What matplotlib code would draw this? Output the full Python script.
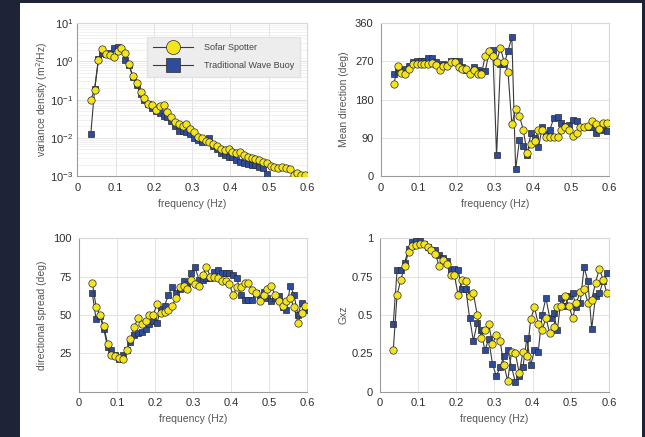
import matplotlib
matplotlib.use("Agg")
import matplotlib.pyplot as plt
from matplotlib.patches import Rectangle
from matplotlib.ticker import LogLocator, NullFormatter

plt.rcParams['font.family'] = ['Liberation Sans', 'DejaVu Sans']

# frequency grid (Hz)
freq = [0.035, 0.045, 0.055, 0.065, 0.075, 0.085, 0.095, 0.105, 0.115, 0.125,
        0.135, 0.145, 0.155, 0.165, 0.175, 0.185, 0.195, 0.205, 0.215, 0.225,
        0.235, 0.245, 0.255, 0.265, 0.275, 0.285, 0.295, 0.305, 0.315, 0.325,
        0.335, 0.345, 0.355, 0.365, 0.375, 0.385, 0.395, 0.405, 0.415, 0.425,
        0.435, 0.445, 0.455, 0.465, 0.475, 0.485, 0.495, 0.505, 0.515, 0.525,
        0.535, 0.545, 0.555, 0.565, 0.575, 0.585, 0.595]

# variance density (m^2/Hz)
spotter_E = [0.10, 0.18, 1.12, 2.05, 1.6, 1.45, 1.3, 1.85, 2.3, 1.7,
             0.83, 0.41, 0.27, 0.16, 0.11, 0.079, 0.072, 0.054, 0.068, 0.071,
             0.048, 0.035, 0.026, 0.023, 0.021, 0.023, 0.017, 0.014, 0.0105, 0.010,
             0.0085, 0.0078, 0.0068, 0.006, 0.0051, 0.0049, 0.005, 0.0044, 0.004, 0.0042,
             0.0035, 0.0032, 0.003, 0.0028, 0.0026, 0.0023, 0.0022, 0.0018, 0.0017, 0.0016,
             0.0017, 0.0016, 0.0015, 0.0011, 0.0012, 0.0011, 0.00107]
buoy_E = [0.0126, 0.19, 1.17, 1.66, 1.6, 1.66, 2.24, 2.4, 2.0, 1.12,
          0.79, 0.38, 0.24, 0.14, 0.10, 0.076, 0.06, 0.05, 0.045, 0.038,
          0.035, 0.028, 0.02, 0.015, 0.015, 0.014, 0.0126, 0.01, 0.0089, 0.0079,
          0.0089, 0.01, 0.0063, 0.005, 0.004, 0.0035, 0.0032, 0.0032, 0.0026, 0.0024,
          0.0022, 0.0021, 0.002, 0.0019, 0.0017, 0.0016, 0.00112]

# mean direction (deg)
spotter_dir = [216, 260, 242, 240, 252, 263, 265, 265, 265, 265,
               266, 262, 250, 260, 260, 268, 268, 256, 252, 252,
               240, 250, 240, 240, 283, 295, 283, 268, 302, 268,
               244, 122, 157, 142, 109, 55, 76, 83, 108, 108,
               93, 92, 92, 92, 108, 115, 108, 95, 102, 115,
               115, 118, 130, 122, 112, 126, 124]
buoy_dir = [240, 248, 250, 252, 260, 268, 272, 272, 272, 278,
            278, 268, 260, 264, 262, 270, 270, 270, 256, 250,
            246, 256, 250, 246, 247, 290, 296, 50, 264, 264,
            295, 327, 16, 84, 70, 50, 101, 90, 68, 115,
            100, 109, 136, 140, 126, 118, 120, 132, 130, 115,
            115, 115, 115, 102, 112, 109, 106]

# directional spread (deg)
spotter_spread = [71, 55, 50, 43, 31, 24, 23, 22, 21, 27,
                  34, 42, 48, 44, 46, 50, 50, 57, 51, 52,
                  53, 56, 61, 68, 69, 67, 73, 70, 69, 76,
                  81, 75, 75, 74, 72, 72, 70, 63, 68, 68,
                  71, 71, 66, 64, 59, 63, 67, 69, 63, 59,
                  56, 59, 61, 55, 45, 51, 56]
buoy_spread = [64, 47, 49, 41, 29, 27, 24, 21, 24, 27,
               32, 37, 38, 39, 41, 44, 46, 45, 54, 56,
               63, 68, 64, 67, 72, 70, 77, 81, 73, 73,
               74, 74, 78, 79, 77, 77, 77, 76, 74, 63,
               60, 60, 60, 64, 61, 65, 61, 59, 61, 62,
               55, 53, 69, 63, 50, 58, 53]

# coherence Gxz
spotter_gxz = [0.27, 0.63, 0.73, 0.82, 0.91, 0.95, 0.955, 0.96, 0.965, 0.945,
               0.92, 0.90, 0.82, 0.86, 0.83, 0.76, 0.76, 0.63, 0.73, 0.72,
               0.62, 0.64, 0.50, 0.35, 0.40, 0.44, 0.31, 0.37, 0.33, 0.17,
               0.07, 0.26, 0.25, 0.12, 0.26, 0.23, 0.47, 0.55, 0.44, 0.40,
               0.48, 0.38, 0.42, 0.55, 0.56, 0.62, 0.56, 0.48, 0.58, 0.65,
               0.67, 0.58, 0.60, 0.71, 0.80, 0.73, 0.64]
buoy_gxz = [0.44, 0.79, 0.79, 0.84, 0.93, 0.975, 0.98, 0.98, 0.965, 0.945,
            0.925, 0.92, 0.89, 0.87, 0.85, 0.79, 0.80, 0.79, 0.67, 0.67,
            0.48, 0.33, 0.45, 0.40, 0.27, 0.34, 0.18, 0.10, 0.16, 0.23,
            0.27, 0.16, 0.06, 0.10, 0.16, 0.35, 0.17, 0.27, 0.26, 0.50,
            0.61, 0.48, 0.51, 0.40, 0.61, 0.56, 0.62, 0.64, 0.55, 0.58,
            0.81, 0.72, 0.41, 0.62, 0.64, 0.72, 0.77]

YELLOW = '#f3e41c'
BLUE = '#2d4c9e'
LINE = '#3a3a3a'
EDGE = '#2a2a2a'

fig = plt.figure(figsize=(6.45, 4.37), dpi=100)
fig.patch.set_facecolor('#1f2338')
fig.patches.append(Rectangle((20 / 645, 0), 622 / 645, 1 - 3 / 437,
                             transform=fig.transFigure, facecolor='white',
                             edgecolor='none', zorder=-10))

ax1 = fig.add_axes([0.120, 0.597, 0.356, 0.350])
ax2 = fig.add_axes([0.590, 0.597, 0.354, 0.350])
ax3 = fig.add_axes([0.1225, 0.104, 0.354, 0.351])
ax4 = fig.add_axes([0.589, 0.104, 0.355, 0.351])


def draw(ax, yb, ys):
    ax.plot(freq[:len(yb)], yb, '-s', color=LINE, lw=0.8, mfc=BLUE, mec=EDGE,
            mew=0.5, ms=5, zorder=3, label='Traditional Wave Buoy')
    ax.plot(freq[:len(ys)], ys, '-o', color=LINE, lw=0.8, mfc=YELLOW, mec=EDGE,
            mew=0.5, ms=5.3, zorder=4, label='Sofar Spotter')


def style(ax):
    ax.set_facecolor('white')
    ax.set_xlim(0, 0.6)
    ax.set_xticks([0, 0.1, 0.2, 0.3, 0.4, 0.5, 0.6])
    ax.set_xticklabels(['0', '0.1', '0.2', '0.3', '0.4', '0.5', '0.6'])
    ax.grid(True, which='major', color='#e3e3e3', lw=0.7)
    ax.set_axisbelow(True)
    for s in ax.spines.values():
        s.set_color('#d8d8d8')
        s.set_linewidth(0.8)
    ax.spines['left'].set_color('#9a9a9a')
    ax.spines['bottom'].set_color('#9a9a9a')
    ax.tick_params(length=0, labelsize=8, labelcolor='#2e2e2e', pad=5)
    ax.set_xlabel('frequency (Hz)', fontsize=7.5, color='#555555', labelpad=4)


draw(ax1, buoy_E, spotter_E)
ax1.set_yscale('log')
ax1.set_ylim(1e-3, 10)
ax1.yaxis.set_major_locator(LogLocator(base=10, numticks=10))
ax1.yaxis.set_minor_locator(LogLocator(base=10, subs=range(2, 10), numticks=10))
ax1.yaxis.set_minor_formatter(NullFormatter())
style(ax1)
ax1.tick_params(axis='y', pad=3)
ax1.grid(True, which='minor', axis='y', color='#ececec', lw=0.5)
ax1.tick_params(which='minor', length=0)
ax1.set_ylabel('variance density (m$^2$/Hz)', fontsize=7.5, color='#555555', labelpad=0)
h, l = ax1.get_legend_handles_labels()
leg = ax1.legend([h[1], h[0]], [l[1], l[0]], loc='upper right',
                 bbox_to_anchor=(0.99, 0.94), fontsize=6.5, frameon=True,
                 fancybox=False, facecolor='#ededed', edgecolor='#e2e2e2',
                 framealpha=1, handlelength=4.4, markerscale=1.9,
                 borderpad=0.7, labelspacing=1.0, handletextpad=1.2)
for t in leg.get_texts():
    t.set_color('#444444')

draw(ax2, buoy_dir, spotter_dir)
ax2.set_ylim(0, 360)
ax2.set_yticks([0, 90, 180, 270, 360])
style(ax2)
ax2.set_ylabel('Mean direction (deg)', fontsize=7.5, color='#555555', labelpad=4)

draw(ax3, buoy_spread, spotter_spread)
ax3.set_ylim(0, 100)
ax3.set_yticks([25, 50, 75, 100])
style(ax3)
ax3.set_ylabel('directional spread (deg)', fontsize=7.5, color='#555555', labelpad=5)

draw(ax4, buoy_gxz, spotter_gxz)
ax4.set_ylim(0, 1)
ax4.set_yticks([0, 0.25, 0.5, 0.75, 1])
ax4.set_yticklabels(['0', '0.25', '0.5', '0.75', '1'])
style(ax4)
ax4.set_ylabel('Gxz', fontsize=7.5, color='#555555', labelpad=2)

fig.savefig('out.png', dpi=100, facecolor=fig.get_facecolor())
